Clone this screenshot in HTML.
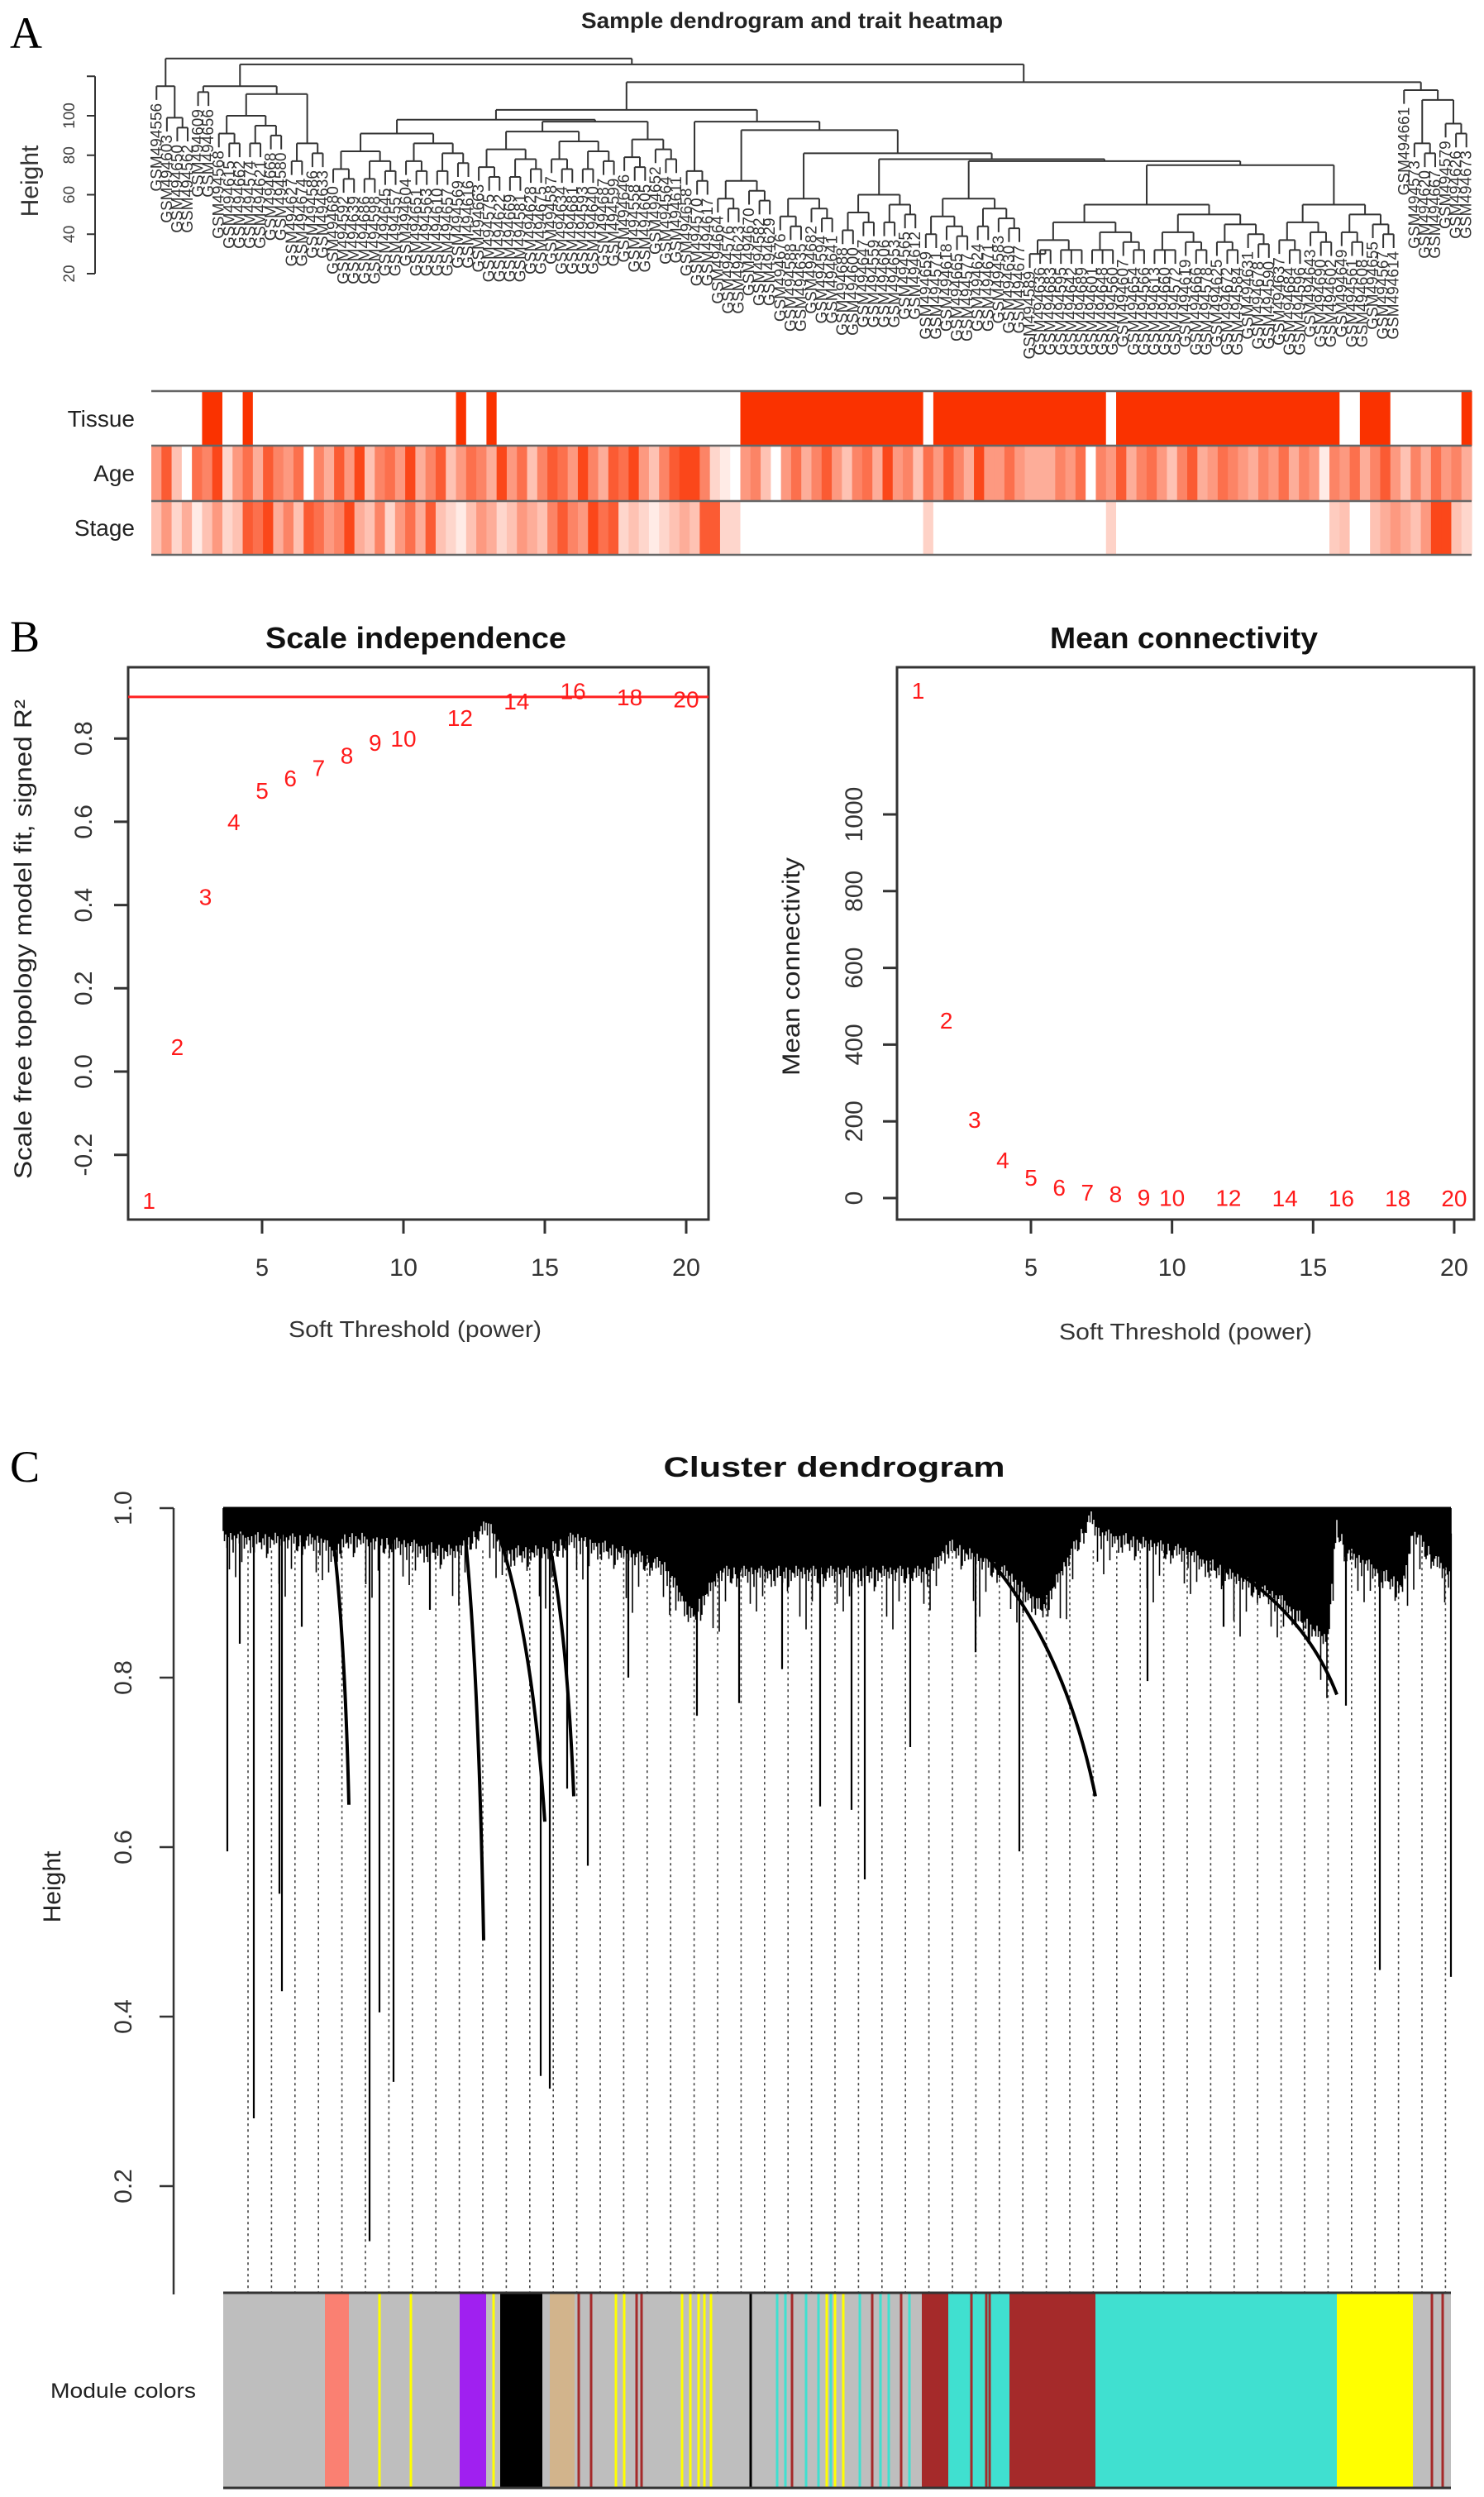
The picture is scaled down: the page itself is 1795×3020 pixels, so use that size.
<!DOCTYPE html>
<html><head><meta charset="utf-8">
<style>
html,body{margin:0;padding:0;background:#fff;}
svg{display:block;font-family:"Liberation Sans",sans-serif;}
</style></head>
<body>
<svg id="fig" width="1795" height="3020" viewBox="0 0 1795 3020" xmlns="http://www.w3.org/2000/svg">
<rect x="0" y="0" width="1795" height="3020" fill="#fff"/>
<text x="12" y="58" font-family="Liberation Serif" font-size="54">A</text>
<text x="12" y="788" font-family="Liberation Serif" font-size="54">B</text>
<text x="12" y="1792" font-family="Liberation Serif" font-size="54">C</text>

<g id="panelA">
<text x="958" y="34" text-anchor="middle" font-size="27" font-weight="bold" textLength="510" lengthAdjust="spacingAndGlyphs" fill="#222">Sample dendrogram and trait heatmap</text>
<text transform="translate(46,219) rotate(-90)" text-anchor="middle" font-size="30" fill="#333">Height</text>
<g id="aAxis"></g>
<g id="aTree" stroke="#333" stroke-width="2" fill="none"></g>
<g id="aLabels" font-size="19" fill="#333"></g>
<g id="aHeat"></g>
<text x="163" y="516" text-anchor="end" font-size="28" fill="#222">Tissue</text>
<text x="163" y="582" text-anchor="end" font-size="28" fill="#222">Age</text>
<text x="163" y="648" text-anchor="end" font-size="28" fill="#222">Stage</text>
</g>

<g id="panelB">
<text x="503" y="784" text-anchor="middle" font-size="36" font-weight="bold" textLength="364" lengthAdjust="spacingAndGlyphs" fill="#111">Scale independence</text>
<text x="1432" y="784" text-anchor="middle" font-size="36" font-weight="bold" textLength="324" lengthAdjust="spacingAndGlyphs" fill="#111">Mean connectivity</text>
<rect x="155" y="807" width="702" height="668" fill="none" stroke="#333" stroke-width="3"/>
<rect x="1085" y="807" width="698" height="668" fill="none" stroke="#333" stroke-width="3"/>
<text transform="translate(38,1136) rotate(-90)" text-anchor="middle" font-size="30" textLength="580" lengthAdjust="spacingAndGlyphs" fill="#222">Scale free topology model fit, signed R²</text>
<text transform="translate(967,1169) rotate(-90)" text-anchor="middle" font-size="30" textLength="264" lengthAdjust="spacingAndGlyphs" fill="#222">Mean connectivity</text>
<text x="502" y="1617" text-anchor="middle" font-size="28" textLength="306" lengthAdjust="spacingAndGlyphs" fill="#333">Soft Threshold (power)</text>
<text x="1434" y="1620" text-anchor="middle" font-size="28" textLength="306" lengthAdjust="spacingAndGlyphs" fill="#333">Soft Threshold (power)</text>
<g id="bAxes"></g>
<g id="bMarks"></g>
</g>

<g id="panelC">
<text x="1009" y="1786" text-anchor="middle" font-size="34" font-weight="bold" textLength="413" lengthAdjust="spacingAndGlyphs" fill="#111">Cluster dendrogram</text>
<text transform="translate(73,2282) rotate(-90)" text-anchor="middle" font-size="30" fill="#222">Height</text>
<g id="cAxis"></g>
<g id="cDots"></g>
<g id="cTree"></g>
<g id="cBar"></g>
<text x="149" y="2900" text-anchor="middle" font-size="25" textLength="176" lengthAdjust="spacingAndGlyphs" fill="#222">Module colors</text>
</g>
</svg>
<script>
const NS="http://www.w3.org/2000/svg";
function mk(tag,attrs,parent){const e=document.createElementNS(NS,tag);for(const k in attrs)e.setAttribute(k,attrs[k]);parent.appendChild(e);return e;}

/* ---------------- Panel B data ---------------- */
const powers=[1,2,3,4,5,6,7,8,9,10,12,14,16,18,20];
const sftR2=[-0.31,0.06,0.42,0.60,0.675,0.705,0.73,0.76,0.79,0.80,0.85,0.89,0.915,0.90,0.895];
const meanK=[1323,463,205,99,54,28,15,11,2,1.5,0.8,0.5,0,0,0];
const xTicks=[5,10,15,20];
const r2Ticks=[-0.2,0,0.2,0.4,0.6,0.8];
const r2TickLabels=["-0.2","0.0","0.2","0.4","0.6","0.8"];
const kTicks=[0,200,400,600,800,1000];
const r2Cut=[0.9];

/* ---------------- Panel A data ---------------- */
const ageVals=[0.5,0.8,0.3,0,0.7,0.6,0.9,0.2,0.5,0.7,0.4,0.8,0.6,0.5,0.7,0,0.6,0.4,0.8,0.5,0.9,0.3,0.6,0.7,0.5,0.9,0.4,0.6,0.8,0.3,0.5,0.7,0.6,0.4,0.9,0.5,0.7,0.3,0.6,0.8,0.7,0.5,0.9,0.6,0.4,0.8,0.7,0.9,0.5,0.3,0.6,0.8,0.9,0.9,0.6,0.2,0.1,0,0.5,0.6,0.3,0,0.5,0.7,0.4,0.6,0.8,0.5,0.3,0.6,0.7,0.4,0.9,0.5,0.6,0.3,0.7,0.5,0.8,0.6,0.4,0.9,0.5,0.5,0.7,0.5,0.4,0.4,0.4,0.6,0.5,0.7,0,0.6,0.5,0.8,0.4,0.6,0.7,0.5,0.3,0.6,0.8,0.4,0.5,0.7,0.6,0.5,0.4,0.6,0.5,0.7,0.4,0.6,0.5,0.1,0.6,0.5,0.7,0.4,0.6,0.8,0.5,0.3,0.6,0.4,0.7,0.5,0.6,0.4];
const stageVals=[0.3,0.5,0.2,0.4,0.1,0.3,0.5,0.2,0.3,0.8,0.7,0.9,0.4,0.6,0.3,0.8,0.7,0.5,0.6,0.9,0.4,0.3,0.6,0.2,0.5,0.7,0.4,0.8,0.3,0.2,0.1,0.3,0.5,0.4,0.2,0.3,0.5,0.4,0.3,0.6,0.8,0.6,0.5,0.9,0.7,0.8,0.2,0.3,0.2,0.1,0.2,0.3,0.4,0.3,0.8,0.8,0.2,0.2,0,0,0,0,0,0,0,0,0,0,0,0,0,0,0,0,0,0,0.22,0,0,0,0,0,0,0,0,0,0,0,0,0,0,0,0,0,0.22,0,0,0,0,0,0,0,0,0,0,0,0,0,0,0,0,0,0,0,0,0,0.25,0.3,0,0,0.3,0.4,0.5,0.4,0.3,0.5,0.9,0.9,0.3,0.2];
const tissueVals=[0,0,0,0,0,1,1,0,0,1,0,0,0,0,0,0,0,0,0,0,0,0,0,0,0,0,0,0,0,0,1,0,0,1,0,0,0,0,0,0,0,0,0,0,0,0,0,0,0,0,0,0,0,0,0,0,0,0,1,1,1,1,1,1,1,1,1,1,1,1,1,1,1,1,1,1,0,1,1,1,1,1,1,1,1,1,1,1,1,1,1,1,1,1,0,1,1,1,1,1,1,1,1,1,1,1,1,1,1,1,1,1,1,1,1,1,1,0,0,1,1,1,0,0,0,0,0,0,0,1];
const aTicks=[20,40,60,80,100,120];
const aTickLabels=["20","40","60","80","100",""];

/* ---------------- Panel C data ---------------- */
const cTicks=[0.2,0.4,0.6,0.8,1.0];
const envelopeX=[270,390,401,422,550,591,608,659,694,803,837,872,906,1032,1124,1147,1216,1261,1319,1330,1433,1548,1606,1617,1628,1697,1709,1749,1755];
const envelopeH=[0.973,0.969,0.956,0.973,0.956,0.989,0.956,0.956,0.973,0.94,0.882,0.932,0.932,0.932,0.932,0.965,0.932,0.89,0.998,0.977,0.956,0.90,0.85,0.99,0.956,0.915,0.98,0.932,0.93];
const slopeX0=[401,562,596,660,1147,1433];
const slopeH0=[0.98,0.975,0.99,0.98,0.99,0.96];
const slopeX1=[422,585,659,694,1325,1617];
const slopeH1=[0.65,0.49,0.63,0.66,0.66,0.78];
const dropX=[275,307,338,341,447,476,459,711,686,1046,1233,1669,1755,665,654,992,1030,843,894,1101,1388,946,1628,290,365,520,760,1180,1480];
const dropH=[0.595,0.28,0.545,0.43,0.135,0.323,0.405,0.578,0.669,0.562,0.595,0.455,0.447,0.315,0.33,0.648,0.644,0.755,0.77,0.718,0.796,0.81,0.767,0.84,0.86,0.88,0.80,0.83,0.86];
const modStart=[270,393,422,556,588,605,656,665,695,906,1115,1147,1221,1325,1617,1709];
const modEnd=[393,422,556,588,605,656,665,695,906,1115,1147,1221,1325,1617,1709,1755];
const modColor=["#BEBEBE","#FA8072","#BEBEBE","#A020F0","#BEBEBE","#000000","#BEBEBE","#D2B48C","#BEBEBE","#BEBEBE","#A52A2A","#40E0D0","#A52A2A","#40E0D0","#FFFF00","#BEBEBE"];
const thinX=[459,497,597,700,715,745,755,770,776,825,835,845,852,860,908,940,950,958,975,990,1000,1005,1010,1020,1040,1055,1065,1075,1090,1100,1175,1193,1197,1732,1745];
const thinColor=["#FFFF00","#FFFF00","#FFFF00","#A52A2A","#A52A2A","#FFFF00","#FFFF00","#A52A2A","#A52A2A","#FFFF00","#FFFF00","#FFFF00","#FFFF00","#FFFF00","#000000","#40E0D0","#40E0D0","#A52A2A","#40E0D0","#40E0D0","#FFFF00","#40E0D0","#FFFF00","#FFFF00","#40E0D0","#A52A2A","#40E0D0","#40E0D0","#A52A2A","#40E0D0","#A52A2A","#A52A2A","#A52A2A","#A52A2A","#A52A2A"];
const jag=[0,0.012,0.004,0.02,0.007,0.015,0.002,0.01,0.025,0.005,0.018,0.008,0.003,0.014];

/* ============ Panel B drawing ============ */
const xL=p=>317+(p-5)*34.2, yL=v=>1296-v*503.5;
const xR=p=>1247+(p-5)*34.13, yR=v=>1449-v*0.464;
const bAxes=document.getElementById('bAxes'), bMarks=document.getElementById('bMarks');
xTicks.forEach(t=>{
  [xL,xR].forEach(fx=>{
    const l=mk('line',{x1:fx(t),x2:fx(t),y1:1475,y2:1492,stroke:'#333','stroke-width':3},bAxes);
    
    
    const tx=mk('text',{x:fx(t),y:1543,'text-anchor':'middle','font-size':30,fill:'#333',textLength:t<10?16:34,lengthAdjust:'spacingAndGlyphs'},bAxes);
    tx.textContent=t;
    
    
  });
});
r2Ticks.forEach((t,i)=>{
  const l=mk('line',{x1:138,x2:155,y1:yL(t),y2:yL(t),stroke:'#333','stroke-width':3},bAxes);
  
  
  const tx=mk('text',{transform:`translate(111,${yL(t)}) rotate(-90)`,'text-anchor':'middle','font-size':30,fill:'#333'},bAxes);
  tx.textContent=r2TickLabels[i];
  
  
});
kTicks.forEach(t=>{
  const l=mk('line',{x1:1068,x2:1085,y1:yR(t),y2:yR(t),stroke:'#333','stroke-width':3},bAxes);
  
  
  const tx=mk('text',{transform:`translate(1043,${yR(t)}) rotate(-90)`,'text-anchor':'middle','font-size':30,fill:'#333'},bAxes);
  tx.textContent=t;
  
  
});
r2Cut.forEach(c=>{
  const l=mk('line',{x1:155,x2:857,y1:yL(c),y2:yL(c),stroke:'#ff2020','stroke-width':3},bMarks);
  
  
});
powers.forEach((p,i)=>{
  const a=mk('text',{x:xL(p),y:yL(sftR2[i])+10,'text-anchor':'middle','font-size':28,fill:'#ff1a1a'},bMarks);
  a.textContent=p;
  
  
  const b=mk('text',{x:xR(p),y:yR(meanK[i])+10,'text-anchor':'middle','font-size':28,fill:'#ff1a1a'},bMarks);
  b.textContent=p;
  
  
});

/* ============ Panel A drawing ============ */
const yA=h=>331-(h-20)*2.3875;
const aAxis=document.getElementById('aAxis');
const axLine=mk('line',{x1:115,x2:115,y1:yA(120),y2:yA(20),stroke:'#333','stroke-width':2},aAxis);


aTicks.forEach((t,i)=>{
  const l=mk('line',{x1:105,x2:115,y1:yA(t),y2:yA(t),stroke:'#333','stroke-width':2},aAxis);
  
  
  const tx=mk('text',{transform:`translate(90,${yA(t)}) rotate(-90)`,'text-anchor':'middle','font-size':19,fill:'#444'},aAxis);
  tx.textContent=aTickLabels[i];
  
  
});
function grp(n,h){ if(n===1) return 'L'; const a=Math.floor(n/2), b=n-a; return [h, grp(a,Math.max(h-9,30)), grp(b,Math.max(h-5,32))]; }
const tree=[129,
 [115,'L',grp(3,99)],
 [126,
   [115, grp(2,112), [111, grp(7,100), grp(4,86)]],
   [117,
     [103,
       [98, grp(14,91), [97, grp(14,92), grp(6,88)]],
       [97, grp(3,72), [92.7, grp(6,67), [81, grp(6,58), [78, grp(8,60), [77, grp(10,58), [75, grp(24,55), grp(12,55)]]]]]]
     ],
     [113,'L',[108, grp(3,86), grp(3,96)]]
   ]
 ]
];
function countLeaves(n){return n==='L'?1:countLeaves(n[1])+countLeaves(n[2]);}
const nLeaves=countLeaves(tree);
const aX0=183, aStep=(1780-183)/nLeaves;
const aTree=document.getElementById('aTree'), aLabels=document.getElementById('aLabels');
let leafIdx=0; let dPath='';
function layout(n,parentH){
  if(n==='L'){
    const x=aX0+(leafIdx+0.5)*aStep, i=leafIdx++;
    const yb=yA(parentH-7);
    dPath+=`M${x},${yA(parentH)}V${yb}`;
    const t=mk('text',{transform:`translate(${x+6},${yb+4}) rotate(-90)`,'text-anchor':'end'},aLabels);
    t.textContent='GSM494'+(556+((i*47)%135));
    
    
    return x;
  }
  const xl=layout(n[1],n[0]), xr=layout(n[2],n[0]);
  dPath+=`M${xl},${yA(n[0])}H${xr}`;
  const xm=(xl+xr)/2;
  if(parentH!==null) dPath+=`M${xm},${yA(parentH)}V${yA(n[0])}`;
  return xm;
}
layout(tree,null);
const treePath=mk('path',{d:dPath},aTree);



const aHeat=document.getElementById('aHeat');
const heatCol=t=>`rgb(${Math.round(255-5*t)},${Math.round(255-205*t)},${Math.round(255-255*t)})`;
[[tissueVals,473,539,'tissue'],[ageVals,539,606,'age'],[stageVals,606,671,'stage']].forEach(([arr,y0,y1,nm])=>{
  const w=(1780-183)/arr.length;
  arr.forEach((v,i)=>{
    const r=mk('rect',{x:183+i*w,y:y0,width:w+0.6,height:y1-y0,fill:heatCol(v)},aHeat);
    
    
  });
});
[473,539,606,671].forEach(y=>{
  const l=mk('line',{x1:183,x2:1780,y1:y,y2:y,stroke:'#666','stroke-width':2.5},aHeat);
  
  
});

/* ============ Panel C drawing ============ */
const yC=h=>1824+(1-h)*1025;
const cAxis=document.getElementById('cAxis');
const cAxLine=mk('line',{x1:210,x2:210,y1:yC(1),y2:2775,stroke:'#333','stroke-width':2.5},cAxis);


cTicks.forEach(t=>{
  const l=mk('line',{x1:193,x2:210,y1:yC(t),y2:yC(t),stroke:'#333','stroke-width':2.5},cAxis);
  
  
  const tx=mk('text',{transform:`translate(159,${yC(t)}) rotate(-90)`,'text-anchor':'middle','font-size':30,fill:'#333'},cAxis);
  tx.textContent=t.toFixed(1);
  
  
});
const cDots=document.getElementById('cDots');
let dd='';
for(let x=300;x<=1755;x+=28.4){dd+=`M${x.toFixed(1)},${yC(0.95)}V2773`;}
const dotPath=mk('path',{d:dd,stroke:'#444','stroke-width':1.6,'stroke-dasharray':'3,4',fill:'none'},cDots);



const cTree=document.getElementById('cTree');
function envAt(x){
  for(let i=0;i<envelopeX.length-1;i++){
    if(x>=envelopeX[i]&&x<=envelopeX[i+1]){const f=(x-envelopeX[i])/(envelopeX[i+1]-envelopeX[i]);return envelopeH[i]+(envelopeH[i+1]-envelopeH[i])*f;}
  }
  return envelopeH[envelopeH.length-1];
}
let bd=''; let kk=0;
for(let x=270;x<=1755;x+=1.5,kk++){
  const h=envAt(x)-jag[kk%jag.length]*((kk%5===0)?3:1);
  bd+=`M${x.toFixed(1)},${yC(1)}V${yC(h).toFixed(1)}`;
}
const bandPath=mk('path',{d:bd,stroke:'#000','stroke-width':1.6,fill:'none'},cTree);


const topLine=mk('line',{x1:270,x2:1755,y1:yC(1),y2:yC(1),stroke:'#000','stroke-width':3},cTree);


slopeX0.forEach((x0,i)=>{
  const x1=slopeX1[i], y0=yC(slopeH0[i]), y1=yC(slopeH1[i]);
  const d=`M${x0},${y0}Q${x0+(x1-x0)*0.75},${y0+(y1-y0)*0.35} ${x1},${y1}`;
  const p=mk('path',{d:d,stroke:'#000','stroke-width':4,fill:'none'},cTree);
  
  
});
dropX.forEach((x,i)=>{
  const l=mk('line',{x1:x,x2:x,y1:yC(0.97),y2:yC(dropH[i]),stroke:'#000','stroke-width':2.2},cTree);
  
  
});

const cBar=document.getElementById('cBar');
modStart.forEach((x0,i)=>{
  const r=mk('rect',{x:x0,y:2773,width:modEnd[i]-x0,height:236,fill:modColor[i]},cBar);
  
  
});
thinX.forEach((x,i)=>{
  const r=mk('rect',{x:x-1.5,y:2773,width:3,height:236,fill:thinColor[i]},cBar);
  
  
});
[2773,3009].forEach(y=>{
  const l=mk('line',{x1:270,x2:1755,y1:y,y2:y,stroke:'#333','stroke-width':3},cBar);
  
  
});
</script>
</body></html>
